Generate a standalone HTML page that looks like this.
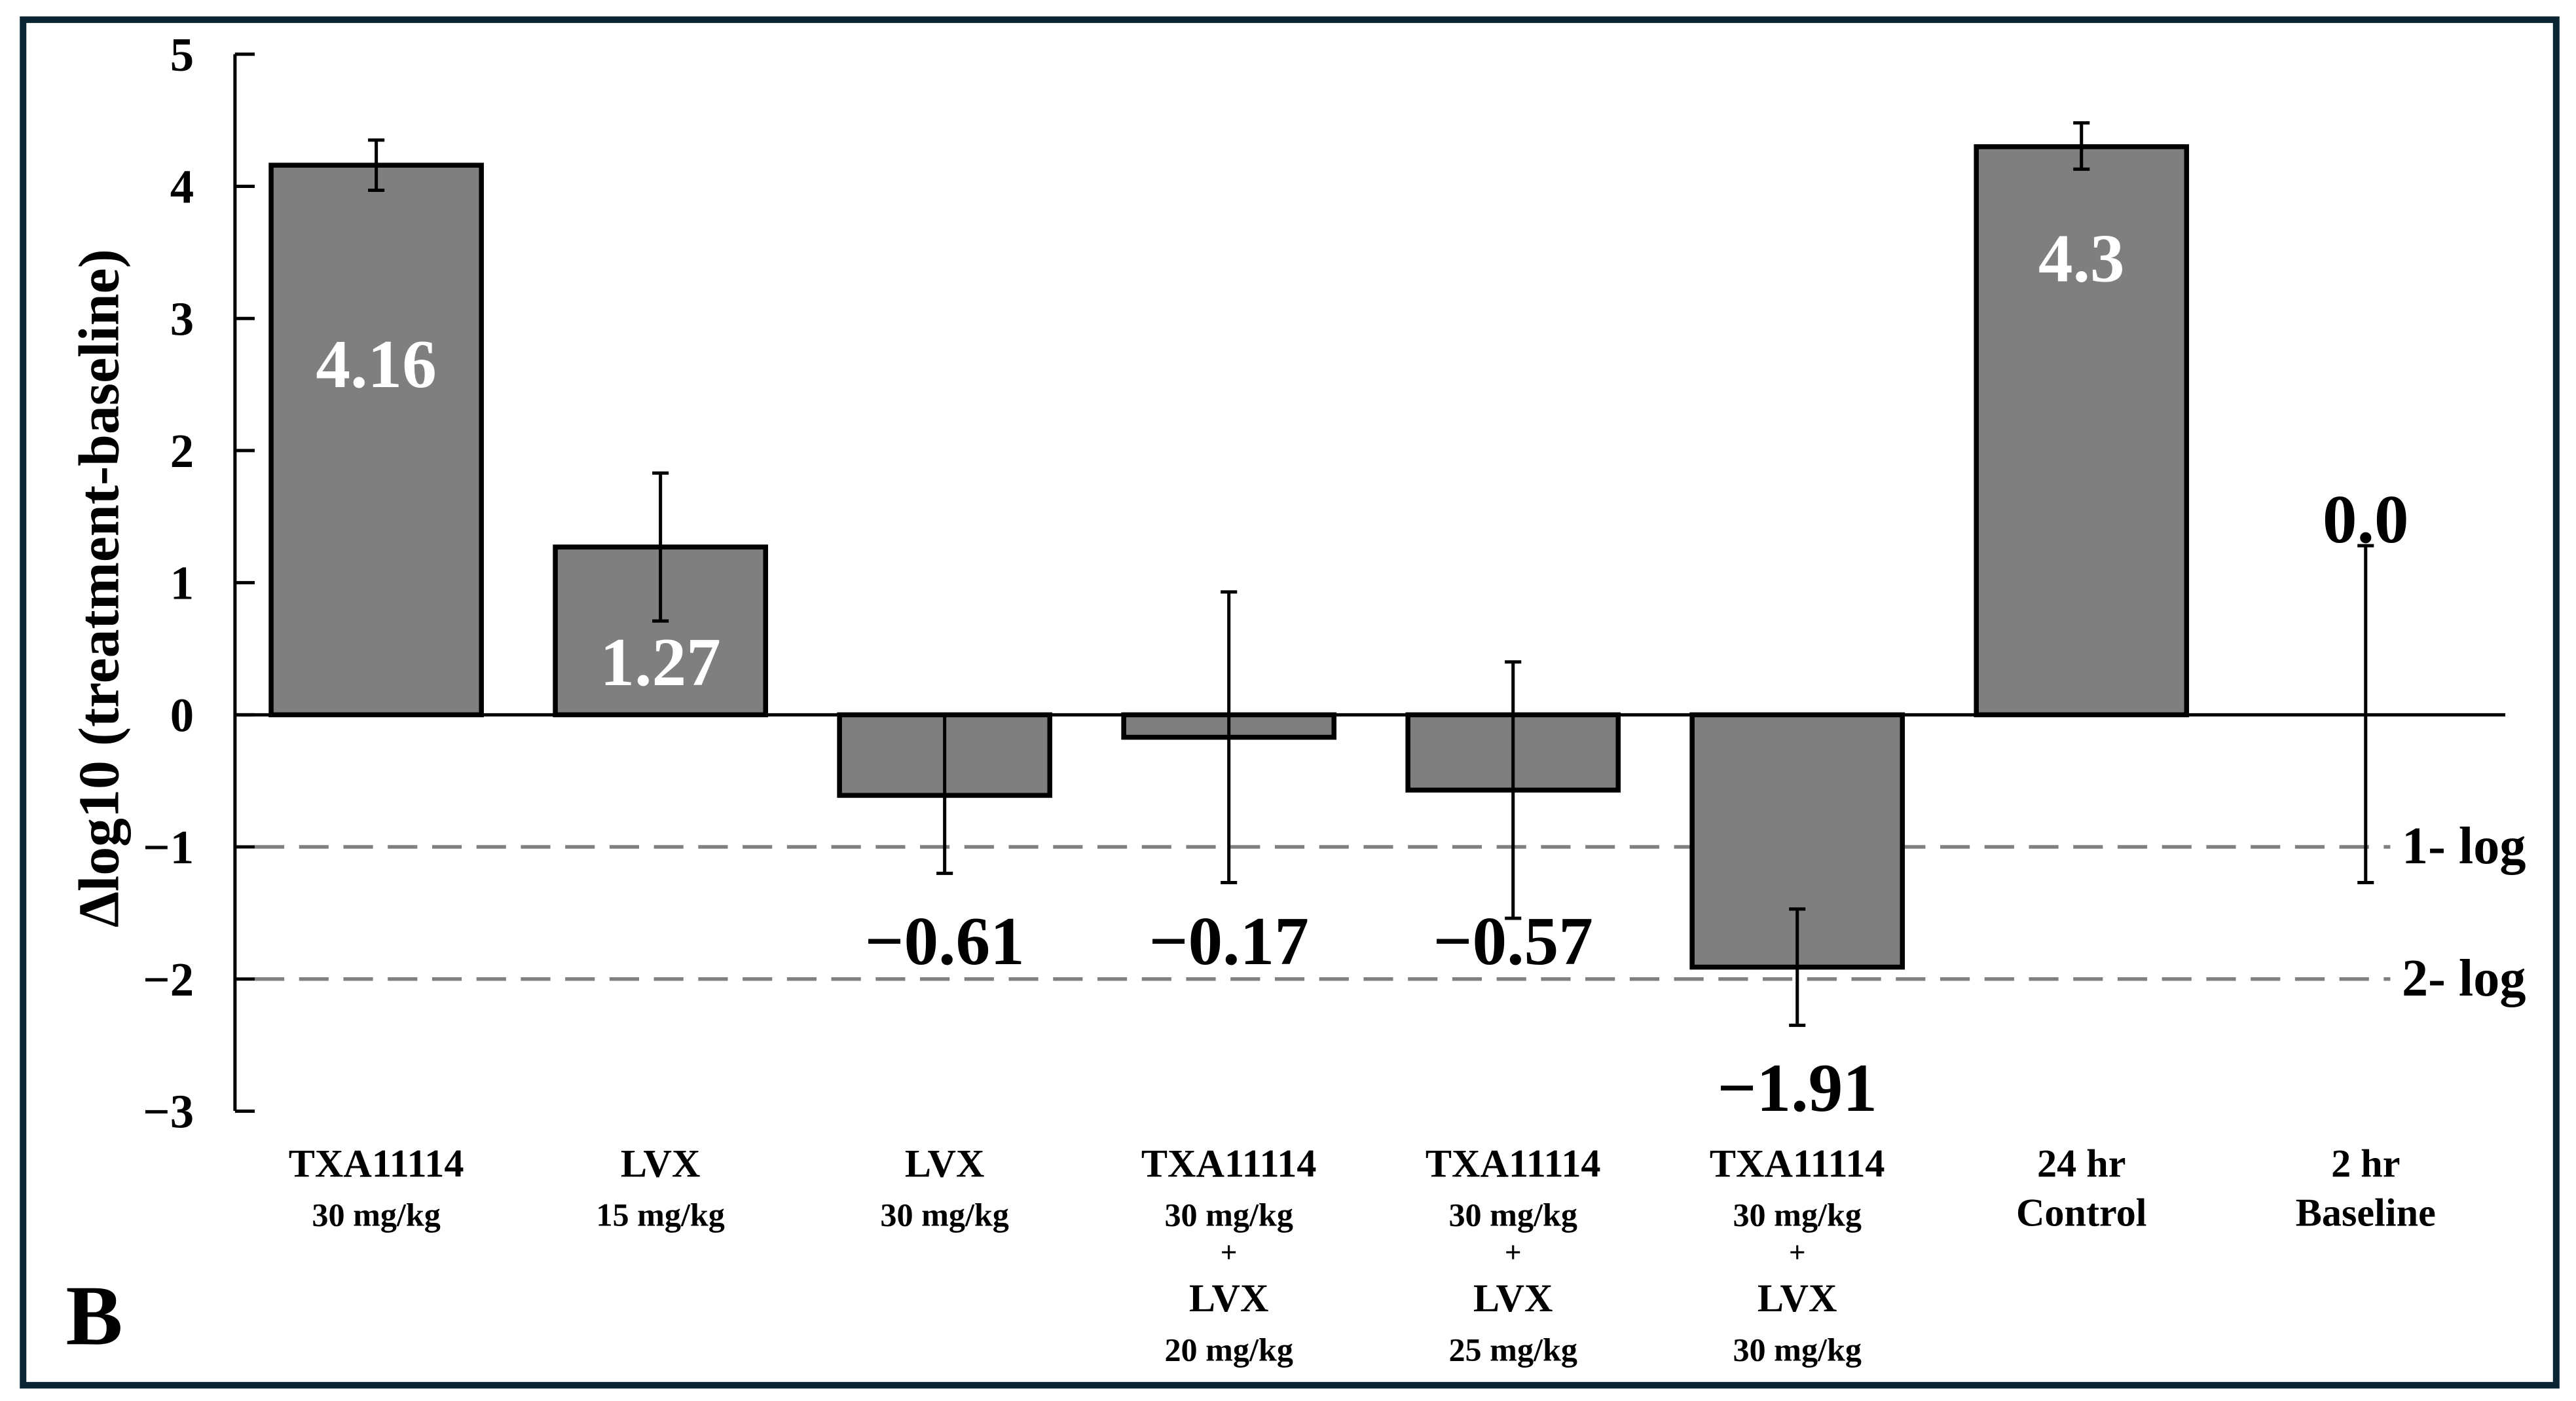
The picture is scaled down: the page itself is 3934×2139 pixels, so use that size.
<!DOCTYPE html>
<html><head><meta charset="utf-8"><style>
html,body{margin:0;padding:0;background:#fff;}
svg{display:block;}
text{font-family:"Liberation Serif",serif;font-weight:bold;}
</style></head><body>
<svg id="chart" width="3934" height="2139" viewBox="0 0 1568 852.6" xmlns="http://www.w3.org/2000/svg">
<rect x="14" y="12" width="1542" height="831" fill="#fff" stroke="#0b2535" stroke-width="4"/>
<g id="grid"></g>
<g id="bars"></g>
<g id="axis"></g>
<text transform="translate(72,358) rotate(-90)" text-anchor="middle" font-size="35" fill="#000">Δlog10 (treatment-baseline)</text>
<text x="40" y="818" font-size="52" fill="#000">B</text>
</svg>
<script>
const categories = [["TXA11114","30 mg/kg"],["LVX","15 mg/kg"],["LVX","30 mg/kg"],["TXA11114","30 mg/kg","+","LVX","20 mg/kg"],["TXA11114","30 mg/kg","+","LVX","25 mg/kg"],["TXA11114","30 mg/kg","+","LVX","30 mg/kg"],["24 hr","Control"],["2 hr","Baseline"]];
const values = [4.16, 1.27, -0.61, -0.17, -0.57, -1.91, 4.3, 0];
const errLow = [3.97, 0.71, -1.20, -1.27, -1.54, -2.35, 4.13, -1.27];
const errHigh = [4.35, 1.83, 0, 0.93, 0.40, -1.47, 4.48, 1.28];
const valueLabels = ["4.16","1.27","\u22120.61","\u22120.17","\u22120.57","\u22121.91","4.3","0.0"];
const yTicks = [5,4,3,2,1,0,-1,-2,-3];
const yTickLabels = ["5","4","3","2","1","0","\u22121","\u22122","\u22123"];
const refLines = [-1,-2];
const refLabels = ["1- log","2- log"];

const NS="http://www.w3.org/2000/svg";
const y0=435, unit=80.4, x0=229, step=173, bw=128;
function yScale(v){return y0 - v*unit;}
function xScale(i){return x0 + i*step;}
function mk(tag,attrs,parent){const e=document.createElementNS(NS,tag);for(const k in attrs)e.setAttribute(k,attrs[k]);parent.appendChild(e);return e;}
const grid=document.getElementById('grid'), barsG=document.getElementById('bars'), axisG=document.getElementById('axis');

refLines.forEach((v,i)=>{
  const l=mk('line',{x1:155,x2:1455,y1:yScale(v),y2:yScale(v),stroke:'#808080','stroke-width':2.2,'stroke-dasharray':'18 9'},grid);
  
  
  const t=mk('text',{x:1462,y:yScale(v)+10,'font-size':32,fill:'#000'},grid);
  t.textContent=refLabels[i];
  
  
});

values.forEach((v,i)=>{
  const cx=xScale(i);
  if(i<7){
    const top=Math.min(yScale(v),y0), h=Math.abs(yScale(v)-y0);
    const r=mk('rect',{x:cx-bw/2,y:top,width:bw,height:h,fill:'#7f7f7f',stroke:'#000','stroke-width':3},barsG);
    
    
  }
  const e=mk('line',{x1:cx,x2:cx,y1:yScale(errHigh[i]),y2:yScale(errLow[i]),stroke:'#000','stroke-width':2},barsG);
  
  
  [errHigh[i],errLow[i]].forEach(ev=>{
    if(ev===0 && v<0) return;
    mk('line',{x1:cx-5,x2:cx+5,y1:yScale(ev),y2:yScale(ev),stroke:'#000','stroke-width':2},barsG);
  });
  let ly, col;
  if(v>0.5){ly=Math.min(yScale(v)+ (i===6?82:135), y0-20); if(i===1) ly=y0-18; col='#fff';}
  else if(i===7){ly=yScale(errHigh[i])-2;col='#000';}
  else{ly=Math.max(yScale(errLow[i]),yScale(v))+52;col='#000'; if(i!==5) ly=yScale(-1.7)+15;}
  const t=mk('text',{x:cx,y:ly,'text-anchor':'middle','font-size':42,fill:col},barsG);
  t.textContent=valueLabels[i];
  
  
  const lineY=[716,746,768,798,828];
  const sizes=[24,20,18,24,20];
  categories[i].forEach((s,j)=>{
    let fs = categories[i].length===2 && i>=6 ? 24 : sizes[j];
    const c=mk('text',{x:cx,y:lineY[j],'text-anchor':'middle','font-size':fs,fill:'#000'},axisG);
    c.textContent=s;
    
    
  });
});

const ax=mk('line',{x1:143,x2:143,y1:33,y2:676,stroke:'#000','stroke-width':2},axisG);


const zl=mk('line',{x1:143,x2:1525,y1:y0,y2:y0,stroke:'#000','stroke-width':2},axisG);


yTicks.forEach((v,i)=>{
  mk('line',{x1:143,x2:155,y1:yScale(v),y2:yScale(v),stroke:'#000','stroke-width':2},axisG);
  const t=mk('text',{x:118,y:yScale(v)+10,'text-anchor':'end','font-size':29,fill:'#000'},axisG);
  t.textContent=yTickLabels[i];
  
  
});
</script>
</body></html>
